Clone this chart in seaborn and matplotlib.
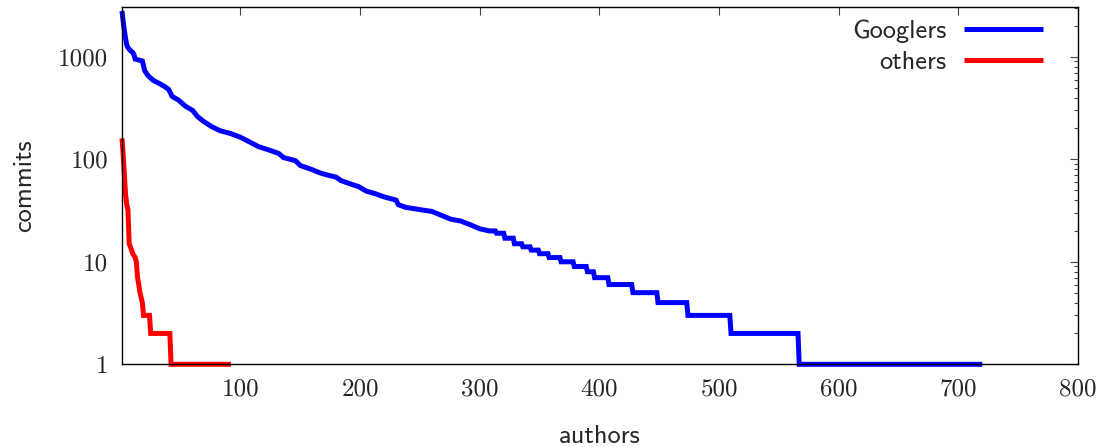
import matplotlib
matplotlib.use("Agg")
import matplotlib.pyplot as plt
import matplotlib.ticker as mticker
import seaborn as sns
import pandas as pd

# ---- data: (author rank, commits); flat levels given by first/last rank ----
googlers_rank = [1, 2, 3, 4, 5, 6, 8, 10, 11, 12, 18, 20, 23, 27, 32, 37, 40, 43, 48, 54,
                 60, 64, 69, 76, 83, 92, 100, 107, 115, 124, 132, 136, 146, 150, 159,
                 166, 173, 180, 184, 191, 199, 205, 213, 220, 230, 232, 238, 245, 252,
                 260, 266, 276, 284, 292, 300, 308,
                 313, 314, 320, 321, 328, 329, 335, 336, 342, 343, 349, 350, 357, 358,
                 367, 368, 378, 379, 389, 390, 395, 396, 407, 408, 427, 428, 448, 449,
                 473, 474, 509, 510, 566, 567, 720]
googlers_commits = [2800, 2200, 1800, 1500, 1300, 1230, 1150, 1100, 1050, 950, 910, 730,
                    650, 590, 550, 510, 480, 410, 380, 330, 300, 262, 235, 208, 190, 178,
                    164, 149, 133, 123, 114, 104, 97, 87, 80, 74, 70, 67, 62, 58, 54, 49,
                    46, 43, 40, 36, 34, 33, 32, 31, 29, 26, 25, 23, 21, 20,
                    20, 19, 19, 17, 17, 15, 15, 14, 14, 13, 13, 12, 12, 11,
                    11, 10, 10, 9, 9, 8, 8, 7, 7, 6, 6, 5, 5, 4,
                    4, 3, 3, 2, 2, 1, 1]

others_rank = [1, 2, 3, 4, 5, 6, 7, 8, 9, 10, 12, 13, 14, 15, 16, 18,
               19, 24, 25, 41, 42, 92]
others_commits = [160, 110, 70, 45, 36, 32, 15, 14, 13, 12, 11, 10, 7, 6, 5, 4,
                  3, 3, 2, 2, 1, 1]

series_names = ["Googlers", "others"]
series_colors = ["#0000ff", "#ff0000"]

x_ticks = [100, 200, 300, 400, 500, 600, 700, 800]
y_ticks = [1, 10, 100, 1000]
y_tick_labels = ["1", "10", "100", "1000"]
x_label = "authors"
y_label = "commits"

# ---- figure ----
sns.set_theme(style="white")
plt.rcParams["font.family"] = ["cmss10", "DejaVu Sans"]
plt.rcParams["axes.formatter.use_mathtext"] = True

df = pd.concat([
    pd.DataFrame({"rank": googlers_rank, "commits": googlers_commits, "group": series_names[0]}),
    pd.DataFrame({"rank": others_rank, "commits": others_commits, "group": series_names[1]}),
], ignore_index=True)

fig = plt.figure(figsize=(11.01, 4.47), dpi=100)
ax = fig.add_axes([122 / 1101, 1 - 364.3 / 447, (1078 - 122) / 1101, (364.3 - 7.3) / 447])

sns.lineplot(data=df, x="rank", y="commits", hue="group",
             palette=dict(zip(series_names, series_colors)),
             estimator=None, sort=True,
             linewidth=3.6, ax=ax, legend=False,
             solid_joinstyle="miter", solid_capstyle="butt", clip_on=False)

ax.set_yscale("log")
ax.set_xlim(1, 800)
ax.set_ylim(1, 3040)

ax.set_xticks(x_ticks, labels=[str(t) for t in x_ticks])
ax.set_yticks(y_ticks, labels=y_tick_labels)
ax.yaxis.set_minor_locator(mticker.LogLocator(base=10, subs=range(2, 10), numticks=20))
ax.yaxis.set_minor_formatter(mticker.NullFormatter())
ax.xaxis.set_minor_locator(mticker.NullLocator())

for lab in ax.get_xticklabels() + ax.get_yticklabels():
    lab.set_fontfamily("cmr10")
    lab.set_fontsize(18)

ax.tick_params(which="both", direction="in", top=True, right=True,
               color="#444444", width=0.8)
ax.tick_params(which="major", length=6, pad=10)
ax.tick_params(which="minor", length=3)

for s in ax.spines.values():
    s.set_color("black")
    s.set_linewidth(1.0)
    s.set_visible(True)

ax.set_xlabel(x_label, fontsize=19, family="cmss10")
ax.set_ylabel(y_label, fontsize=19, family="cmss10")
ax.xaxis.set_label_coords(0.5, -0.17)
ax.yaxis.set_label_coords(-0.09, 0.5)

handles = [plt.Line2D([], [], color=c, linewidth=3.6, solid_capstyle="butt")
           for c in series_colors]
leg = ax.legend(handles, series_names, loc="upper right",
                bbox_to_anchor=(0.9634, 0.9646), frameon=False, markerfirst=False,
                handlelength=3.0, handletextpad=0.65, borderpad=0, borderaxespad=0,
                labelspacing=0.27, prop={"family": "cmss10", "size": 19})

fig.savefig("out.png", dpi=100)
